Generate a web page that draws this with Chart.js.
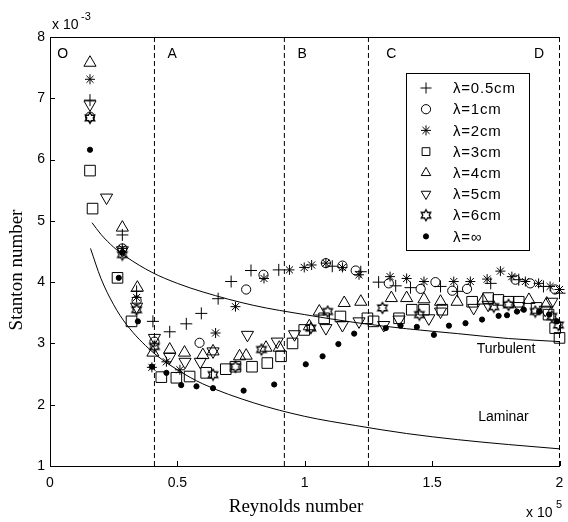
<!DOCTYPE html>
<html>
<head>
<meta charset="utf-8">
<script src="https://cdn.jsdelivr.net/npm/chart.js@4.4.1/dist/chart.umd.min.js"></script>
<style>
    html, body { margin: 0; padding: 0; background: #fff; }
    canvas { display: block; }
</style>
</head>
<body>
<canvas id="stantonChart" width="568" height="522"></canvas>
<script>
(function () {
    // values: Re in units of 1e5, St in units of 1e-3
    var xTickVals = [0, 0.5, 1, 1.5, 2];
    var xTickLabels = ['0', '0.5', '1', '1.5', '2'];
    var yTickVals = [1, 2, 3, 4, 5, 6, 7, 8];

    var regionNames = ['O', 'A', 'B', 'C', 'D'];
    var regionLabelRe = [0.05, 0.48, 0.99, 1.34, 1.92];
    var regionBounds = [0.41, 0.92, 1.25, 2.0];

    var turbRe = [0.165, 0.2, 0.25, 0.3, 0.4, 0.5, 0.6, 0.8, 1.0, 1.2, 1.4, 1.6, 1.8, 2.0];
    var turbSt = [4.97, 4.78, 4.57, 4.41, 4.16, 3.98, 3.84, 3.62, 3.47, 3.34, 3.24, 3.16, 3.08, 3.03];
    var lamRe = [0.159, 0.2, 0.25, 0.3, 0.4, 0.5, 0.6, 0.8, 1.0, 1.2, 1.4, 1.6, 1.8, 2.0];
    var lamSt = [4.55, 4.06, 3.63, 3.31, 2.87, 2.57, 2.34, 2.03, 1.81, 1.66, 1.53, 1.43, 1.35, 1.28];

    var lam05 = [[0.157, 6.97], [0.284, 4.77], [0.34, 3.85], [0.404, 3.36], [0.47, 3.19], [0.535, 3.32],
        [0.594, 3.49], [0.66, 3.73], [0.711, 4.01], [0.789, 4.19], [0.898, 4.20], [1.108, 4.26],
        [1.22, 4.17], [1.29, 4.00], [1.357, 3.94], [1.415, 3.91], [1.533, 3.93], [1.60, 3.85],
        [1.73, 3.98], [1.84, 4.04], [1.937, 3.93], [2.0, 3.82]];
    var lam1 = [[0.157, 6.70], [0.284, 4.55], [0.34, 3.70], [0.41, 3.03], [0.587, 3.01], [0.77, 3.88],
        [0.838, 4.12], [1.083, 4.31], [1.148, 4.27], [1.2, 4.19], [1.33, 3.98], [1.455, 3.89],
        [1.513, 4.00], [1.579, 3.86], [1.637, 3.89], [1.827, 4.04], [1.885, 3.98], [1.983, 3.88]];
    var lam2 = [[0.157, 7.31], [0.284, 4.55], [0.34, 3.75], [0.40, 2.61], [0.457, 2.70], [0.51, 2.57],
        [0.65, 3.17], [0.728, 3.60], [0.84, 4.06], [0.94, 4.20], [0.998, 4.24], [1.027, 4.28],
        [1.083, 4.31], [1.148, 4.24], [1.213, 4.12], [1.335, 4.09], [1.40, 4.06], [1.468, 4.01],
        [1.585, 4.01], [1.65, 4.01], [1.716, 4.05], [1.768, 4.18], [1.813, 4.09], [1.866, 4.01],
        [1.918, 3.98], [1.963, 3.93], [2.0, 3.88]];
    var lam3 = [[0.157, 5.82], [0.167, 5.20], [0.265, 4.07], [0.32, 3.36], [0.437, 2.45], [0.496, 2.44],
        [0.548, 2.46], [0.613, 2.52], [0.69, 2.58], [0.728, 2.62], [0.793, 2.62], [0.853, 2.68],
        [0.907, 2.79], [0.952, 3.00], [0.998, 3.22], [1.076, 3.41], [1.14, 3.44], [1.246, 3.41],
        [1.27, 3.36], [1.37, 3.41], [1.42, 3.55], [1.468, 3.55], [1.54, 3.55], [1.657, 3.68],
        [1.72, 3.74], [1.76, 3.71], [1.80, 3.68], [1.84, 3.68], [1.91, 3.58], [1.957, 3.47],
        [1.983, 3.25], [2.0, 3.09]];
    var lam4 = [[0.157, 7.58], [0.284, 4.89], [0.343, 3.91], [0.404, 2.85], [0.47, 2.90], [0.528, 2.85],
        [0.60, 2.81], [0.64, 2.87], [0.744, 2.79], [0.77, 2.80], [0.848, 2.93], [0.90, 2.93],
        [1.018, 3.28], [1.057, 3.52], [1.155, 3.66], [1.22, 3.68], [1.34, 3.74], [1.40, 3.74],
        [1.468, 3.72], [1.533, 3.68], [1.598, 3.68], [1.70, 3.70], [1.88, 3.71], [1.95, 3.65]];
    var lam5 = [[0.157, 6.90], [0.222, 5.38], [0.284, 4.52], [0.34, 3.60], [0.41, 3.09], [0.47, 2.78],
        [0.53, 2.70], [0.59, 2.70], [0.64, 2.87], [0.775, 3.14], [0.892, 3.03], [0.96, 3.15],
        [1.083, 3.25], [1.148, 3.30], [1.213, 3.36], [1.31, 3.30], [1.37, 3.39], [1.487, 3.41],
        [1.533, 3.52], [1.663, 3.58], [1.72, 3.63], [1.84, 3.61], [1.944, 3.55], [1.97, 3.68]];
    var lam6 = [[0.157, 6.68], [0.284, 4.45], [0.34, 3.55], [0.41, 2.95], [0.64, 2.49], [0.728, 2.62],
        [0.83, 2.90], [1.024, 3.25], [1.09, 3.52], [1.305, 3.58], [1.45, 3.47], [1.742, 3.60],
        [1.80, 3.63], [1.905, 3.52], [1.97, 3.44], [1.996, 3.30]];
    var lamInf = [[0.157, 6.16], [0.284, 4.48], [0.27, 4.07], [0.345, 3.36], [0.40, 2.62], [0.457, 2.52],
        [0.515, 2.32], [0.575, 2.30], [0.64, 2.27], [0.76, 2.23], [0.88, 2.33], [1.004, 2.66],
        [1.07, 2.79], [1.132, 2.99], [1.194, 3.16], [1.318, 3.25], [1.376, 3.29], [1.44, 3.27],
        [1.507, 3.14], [1.566, 3.29], [1.631, 3.33], [1.696, 3.39], [1.761, 3.45], [1.794, 3.46],
        [1.833, 3.52], [1.86, 3.55], [1.92, 3.52], [1.96, 3.47], [1.99, 3.36]];

    var sansFont = '"Liberation Sans", Arial, sans-serif';
    var serifFont = '"Liberation Serif", "Times New Roman", serif';

    function pairs(list) {
        return list.map(function (p) {
            return { x: p[0], y: p[1] };
        });
    }

    function curve(re, st) {
        return re.map(function (r, i) {
            return { x: r, y: st[i] };
        });
    }

    // MATLAB-like hexagram marker
    function hexagram(r) {
        var c = document.createElement('canvas');
        var s = Math.ceil(r * 2 + 3);
        c.width = s;
        c.height = s;
        var g = c.getContext('2d');
        var inner = r / Math.sqrt(3);
        g.beginPath();
        for (var i = 0; i < 12; i++) {
            var rr = i % 2 === 0 ? r : inner;
            var a = -Math.PI / 2 + i * Math.PI / 6;
            var px = s / 2 + rr * Math.cos(a);
            var py = s / 2 + rr * Math.sin(a);
            if (i === 0) g.moveTo(px, py); else g.lineTo(px, py);
        }
        g.closePath();
        g.strokeStyle = '#000';
        g.lineWidth = 1.3;
        g.stroke();
        return c;
    }

    function markerSet(label, list, style, radius, rotation, filled) {
        return {
            type: 'scatter',
            label: label,
            data: pairs(list),
            pointStyle: style,
            pointRadius: radius,
            pointRotation: rotation || 0,
            pointBorderWidth: 1,
            pointBorderColor: '#000',
            pointBackgroundColor: filled ? '#000' : 'rgba(0,0,0,0)',
            showLine: false,
            clip: 8
        };
    }

    var markers = [
        markerSet('\u03bb=0.5cm', lam05, 'cross', 6),
        markerSet('\u03bb=1cm', lam1, 'circle', 4.6),
        markerSet('\u03bb=2cm', lam2, 'star', 5),
        markerSet('\u03bb=3cm', lam3, 'rect', 7.5),
        markerSet('\u03bb=4cm', lam4, 'triangle', 7),
        markerSet('\u03bb=5cm', lam5, 'triangle', 7, 180),
        markerSet('\u03bb=6cm', lam6, hexagram(5.5), 5.5),
        markerSet('\u03bb=\u221e', lamInf, 'circle', 2.6, 0, true)
    ];

    var lines = [
        { type: 'line', label: 'Turbulent', data: curve(turbRe, turbSt), borderColor: '#000', borderWidth: 1,
            pointRadius: 0, cubicInterpolationMode: 'monotone', fill: false },
        { type: 'line', label: 'Laminar', data: curve(lamRe, lamSt), borderColor: '#000', borderWidth: 1,
            pointRadius: 0, cubicInterpolationMode: 'monotone', fill: false }
    ];

    var bounds = regionBounds.map(function (b) {
        return { type: 'line', label: 'bound', data: [{ x: b, y: 1 }, { x: b, y: 8 }],
            borderColor: '#000', borderWidth: 1, borderDash: [5, 3], pointRadius: 0, fill: false, clip: 2 };
    });

    function line(ctx, x1, y1, x2, y2) {
        ctx.beginPath();
        ctx.moveTo(x1, y1);
        ctx.lineTo(x2, y2);
        ctx.stroke();
    }

    var decorPlugin = {
        id: 'decor',
        afterDraw: function (chart) {
            var ctx = chart.ctx;
            var a = chart.chartArea;
            var xs = chart.scales.x;
            var ys = chart.scales.y;
            ctx.save();
            ctx.strokeStyle = '#000';
            ctx.fillStyle = '#000';
            ctx.lineWidth = 1;

            // inward ticks and top border
            xs.ticks.forEach(function (t) {
                var px = Math.round(xs.getPixelForValue(t.value)) + 0.5;
                line(ctx, px, a.bottom, px, a.bottom - 5);
            });
            ys.ticks.forEach(function (t) {
                var py = Math.round(ys.getPixelForValue(t.value)) + 0.5;
                line(ctx, a.left, py, a.left + 5, py);
            });
            line(ctx, a.left, Math.round(a.top) + 0.5, a.right, Math.round(a.top) + 0.5);

            // region letters
            ctx.font = '14px ' + sansFont;
            ctx.textAlign = 'center';
            ctx.textBaseline = 'middle';
            regionNames.forEach(function (n, i) {
                ctx.fillText(n, xs.getPixelForValue(regionLabelRe[i]), ys.getPixelForValue(7.72));
            });
            ctx.fillText('Turbulent', xs.getPixelForValue(1.79), ys.getPixelForValue(2.9));
            ctx.fillText('Laminar', xs.getPixelForValue(1.78), ys.getPixelForValue(1.79));

            // exponent labels
            ctx.textAlign = 'left';
            ctx.textBaseline = 'alphabetic';
            ctx.font = '14px ' + sansFont;
            ctx.fillText('x 10', 52, 29);
            ctx.font = '11px ' + sansFont;
            ctx.fillText('-3', 81, 20);
            ctx.font = '14px ' + sansFont;
            ctx.fillText('x 10', 526, 517);
            ctx.font = '11px ' + sansFont;
            ctx.fillText('5', 556, 508);

            // axis titles
            ctx.font = '19px ' + serifFont;
            ctx.textAlign = 'center';
            ctx.textBaseline = 'middle';
            ctx.fillText('Reynolds number', 296, 507);
            ctx.save();
            ctx.translate(17, 270);
            ctx.rotate(-Math.PI / 2);
            ctx.fillText('Stanton number', 0, 0);
            ctx.restore();

            // legend box
            ctx.fillStyle = '#fff';
            ctx.fillRect(406.5, 73.5, 123, 177);
            ctx.strokeRect(406.5, 73.5, 123, 177);
            ctx.font = '15px ' + sansFont;
            ctx.letterSpacing = '0.8px';
            ctx.textAlign = 'left';
            markers.forEach(function (ds, i) {
                var y = 88 + i * 21.2;
                ctx.fillStyle = ds.pointBackgroundColor;
                ctx.strokeStyle = '#000';
                ctx.lineWidth = 1;
                Chart.helpers.drawPoint(ctx, {
                    pointStyle: ds.pointStyle,
                    rotation: ds.pointRotation,
                    radius: Math.min(ds.pointRadius, 5.5),
                    borderWidth: 1
                }, 426, y);
                ctx.fillStyle = '#000';
                ctx.fillText(ds.label, 453, y + 1);
            });
            ctx.restore();
        }
    };

    new Chart(document.getElementById('stantonChart'), {
        type: 'scatter',
        data: {
            datasets: markers.concat(lines, bounds)
        },
        options: {
            responsive: false,
            animation: false,
            events: [],
            layout: { padding: { top: 37, right: 6, left: 0, bottom: 0 } },
            plugins: {
                legend: { display: false },
                tooltip: { enabled: false }
            },
            scales: {
                x: {
                    type: 'linear',
                    min: 0,
                    max: 2,
                    afterBuildTicks: function (scale) {
                        scale.ticks = xTickVals.map(function (v) { return { value: v }; });
                    },
                    afterFit: function (scale) {
                        scale.height = 56;
                        scale.paddingLeft = 0;
                        scale.paddingRight = 0;
                    },
                    grid: { display: false, drawTicks: false },
                    border: { display: true, color: '#000', width: 1 },
                    ticks: {
                        color: '#000',
                        padding: 1,
                        maxRotation: 0,
                        font: { family: sansFont, size: 14, lineHeight: 2.3 },
                        callback: function (v) {
                            var i = xTickVals.indexOf(v);
                            return i >= 0 ? xTickLabels[i] : '';
                        }
                    }
                },
                y: {
                    type: 'linear',
                    min: 1,
                    max: 8,
                    afterBuildTicks: function (scale) {
                        scale.ticks = yTickVals.map(function (v) { return { value: v }; });
                    },
                    afterFit: function (scale) { scale.width = 50; },
                    grid: { display: false, drawTicks: false },
                    border: { display: true, color: '#000', width: 1 },
                    ticks: {
                        color: '#000',
                        padding: 5,
                        font: { family: sansFont, size: 14 }
                    }
                }
            }
        },
        plugins: [decorPlugin]
    });
})();
</script>
</body>
</html>
